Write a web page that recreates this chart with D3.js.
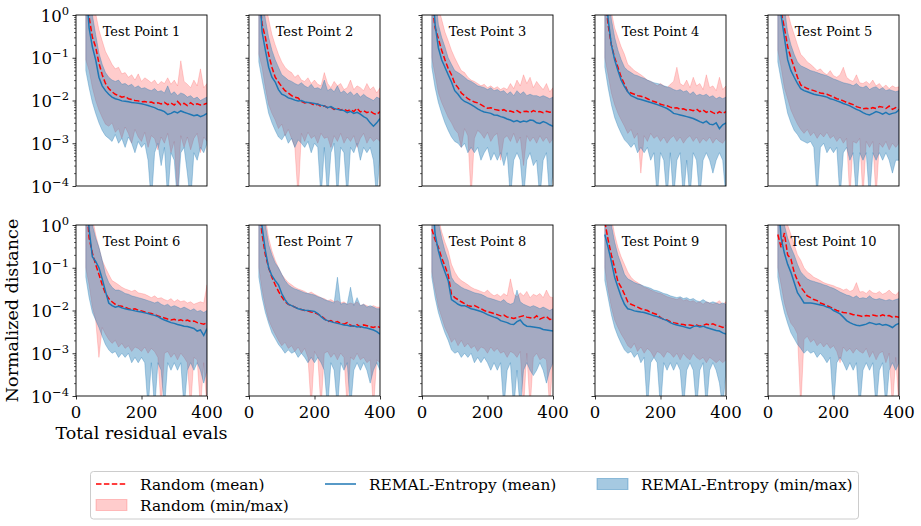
<!DOCTYPE html>
<html><head><meta charset="utf-8">
<script src="https://cdn.jsdelivr.net/npm/d3@7"></script>
<style>body{margin:0;background:#fff}text{font-family:"DejaVu Serif",serif;fill:#000}</style>
</head><body>
<script>
// ---------------- DATA ----------------
const xs = [30,40,50,60,70,80,90,100,110,120,130,140,150,160,170,180,190,200,210,220,230,240,250,260,270,280,290,300,310,320,330,340,350,360,370,380,390,400];
const titles = ["Test Point 1","Test Point 2","Test Point 3","Test Point 4","Test Point 5","Test Point 6","Test Point 7","Test Point 8","Test Point 9","Test Point 10"];
const yTicks = [1e-4,1e-3,1e-2,1e-1,1];
const yTickExp = ["−4","−3","−2","−1","0"];
const xTicks = [0,200,400];
const seriesNames = ["Random (mean)","Random (min/max)","REMAL-Entropy (mean)","REMAL-Entropy (min/max)"];

const randomMean = [
[3,0.9,0.3,0.18,0.075,0.04,0.025,0.019,0.016,0.014,0.013,0.012,0.0125,0.011,0.0105,0.01,0.0098,0.0093,0.0095,0.009,0.0092,0.0085,0.0088,0.0083,0.009,0.008,0.0087,0.0078,0.0095,0.0079,0.0086,0.0076,0.0089,0.0078,0.0084,0.0079,0.0081,0.0087],
[4,0.6,0.3,0.12,0.06,0.035,0.027,0.021,0.017,0.015,0.013,0.012,0.0115,0.0095,0.0088,0.0092,0.0085,0.0078,0.0082,0.0072,0.0075,0.0068,0.007,0.0062,0.0065,0.006,0.0063,0.0057,0.0061,0.0055,0.0066,0.0054,0.0058,0.0052,0.0056,0.005,0.0047,0.0055],
[2,0.5,0.28,0.15,0.09,0.056,0.04,0.025,0.02,0.015,0.013,0.011,0.01,0.0092,0.0088,0.008,0.0072,0.0066,0.0068,0.0062,0.006,0.0058,0.0061,0.0055,0.0057,0.0053,0.0058,0.0052,0.0055,0.0056,0.0052,0.0058,0.0054,0.0055,0.0052,0.0056,0.0053,0.0055],
[3,0.6,0.2,0.1,0.06,0.035,0.024,0.016,0.015,0.014,0.013,0.0125,0.012,0.011,0.01,0.0095,0.009,0.0082,0.0078,0.0075,0.007,0.0066,0.0068,0.0062,0.0064,0.0059,0.0061,0.0058,0.0063,0.0055,0.006,0.0053,0.0057,0.0052,0.0048,0.0055,0.005,0.0055],
[4,1.2,0.5,0.18,0.1,0.06,0.035,0.023,0.021,0.019,0.018,0.017,0.016,0.015,0.0145,0.014,0.013,0.012,0.011,0.0105,0.0098,0.009,0.0085,0.008,0.0072,0.0068,0.0064,0.0066,0.0063,0.0068,0.0065,0.0072,0.007,0.0065,0.0074,0.0062,0.0068,0.006],
[5,0.5,0.22,0.12,0.07,0.04,0.025,0.019,0.016,0.014,0.013,0.0125,0.012,0.011,0.0105,0.011,0.0102,0.0098,0.0092,0.0088,0.0085,0.008,0.0075,0.007,0.0067,0.0063,0.006,0.0062,0.0058,0.0061,0.0056,0.006,0.0055,0.0057,0.0052,0.005,0.0048,0.0052],
[3,0.6,0.2,0.1,0.06,0.04,0.028,0.021,0.016,0.014,0.013,0.012,0.011,0.0105,0.01,0.0097,0.0092,0.009,0.0082,0.0075,0.0065,0.0055,0.0058,0.0052,0.0055,0.005,0.0048,0.0052,0.0045,0.0043,0.0047,0.0041,0.0046,0.0044,0.0042,0.004,0.0043,0.004],
[0.8,0.45,0.3,0.17,0.11,0.067,0.024,0.02,0.018,0.016,0.0145,0.013,0.0125,0.013,0.012,0.011,0.01,0.0093,0.009,0.0085,0.008,0.0075,0.0078,0.007,0.0068,0.0065,0.0068,0.0072,0.0075,0.007,0.0068,0.0065,0.0075,0.0063,0.0068,0.0072,0.0062,0.0063],
[1.2,0.45,0.2,0.1,0.047,0.035,0.024,0.016,0.014,0.013,0.012,0.011,0.0105,0.01,0.009,0.0085,0.008,0.0068,0.0062,0.006,0.0055,0.0052,0.005,0.0048,0.0047,0.0045,0.0046,0.0044,0.0046,0.0043,0.0045,0.0048,0.0046,0.0049,0.0045,0.0043,0.004,0.0044],
[0.6,0.3,0.65,0.2,0.16,0.078,0.05,0.035,0.028,0.022,0.02,0.018,0.017,0.015,0.014,0.013,0.012,0.011,0.01,0.0095,0.009,0.0088,0.0085,0.008,0.0078,0.0075,0.0072,0.0076,0.0074,0.0078,0.0075,0.0073,0.0079,0.0074,0.0076,0.007,0.0072,0.0069]
];
const randomMax = [
[12,8,2.5,1.1,0.45,0.25,0.14,0.1,0.07,0.055,0.06,0.042,0.045,0.035,0.04,0.03,0.042,0.028,0.034,0.03,0.026,0.03,0.023,0.028,0.025,0.034,0.024,0.03,0.022,0.085,0.028,0.024,0.02,0.03,0.022,0.055,0.02,0.025],
[15,6,2,0.8,0.35,0.2,0.12,0.08,0.06,0.05,0.045,0.035,0.04,0.03,0.028,0.034,0.025,0.03,0.024,0.022,0.045,0.025,0.02,0.028,0.022,0.025,0.018,0.02,0.03,0.018,0.022,0.02,0.017,0.025,0.018,0.021,0.015,0.02],
[10,3,1.5,0.8,0.4,0.25,0.15,0.1,0.07,0.05,0.045,0.035,0.03,0.028,0.025,0.022,0.024,0.02,0.022,0.019,0.021,0.018,0.02,0.018,0.025,0.019,0.03,0.022,0.04,0.025,0.035,0.02,0.028,0.022,0.018,0.025,0.016,0.02],
[12,4,1.2,0.5,0.3,0.18,0.12,0.07,0.06,0.05,0.045,0.04,0.035,0.03,0.028,0.025,0.022,0.025,0.022,0.02,0.024,0.028,0.06,0.025,0.022,0.03,0.02,0.035,0.022,0.025,0.018,0.04,0.02,0.022,0.017,0.035,0.018,0.022],
[15,8,3,1.2,0.6,0.35,0.2,0.12,0.1,0.08,0.07,0.06,0.05,0.055,0.045,0.04,0.05,0.038,0.035,0.04,0.06,0.035,0.03,0.028,0.04,0.026,0.025,0.028,0.024,0.03,0.022,0.025,0.02,0.023,0.019,0.022,0.02,0.021],
[15,4,1.5,0.6,0.3,0.15,0.1,0.07,0.05,0.045,0.04,0.035,0.032,0.03,0.028,0.03,0.026,0.025,0.024,0.022,0.02,0.022,0.019,0.02,0.018,0.017,0.019,0.016,0.018,0.016,0.017,0.015,0.016,0.014,0.015,0.016,0.015,0.04],
[15,5,1.5,0.5,0.25,0.15,0.1,0.07,0.055,0.045,0.04,0.035,0.032,0.03,0.028,0.025,0.027,0.024,0.022,0.02,0.019,0.017,0.018,0.016,0.017,0.015,0.016,0.014,0.015,0.014,0.016,0.013,0.014,0.013,0.012,0.013,0.012,0.012],
[12,4,1.5,0.7,0.4,0.25,0.12,0.08,0.06,0.05,0.045,0.04,0.035,0.032,0.03,0.028,0.026,0.03,0.025,0.022,0.024,0.021,0.025,0.022,0.055,0.024,0.021,0.026,0.022,0.028,0.02,0.024,0.022,0.025,0.02,0.03,0.021,0.02],
[12,5,1.5,0.6,0.3,0.18,0.12,0.08,0.06,0.05,0.045,0.04,0.035,0.033,0.03,0.028,0.026,0.025,0.023,0.021,0.02,0.019,0.018,0.02,0.017,0.018,0.016,0.017,0.015,0.016,0.014,0.016,0.015,0.014,0.015,0.017,0.014,0.016],
[5,3,2,1,0.6,0.35,0.2,0.15,0.1,0.08,0.07,0.06,0.055,0.05,0.045,0.042,0.04,0.038,0.035,0.033,0.03,0.032,0.028,0.03,0.045,0.027,0.028,0.025,0.03,0.026,0.025,0.028,0.024,0.026,0.03,0.025,0.023,0.028]
];
const randomMin = [
[0.09,0.05,0.02,0.01,0.006,0.004,0.0028,0.0025,0.003,0.0018,0.0022,0.0013,0.0024,0.0017,0.001,0.0021,0.0014,0.0011,0.0018,0.0008,0.0015,0.0013,0.0007,0.0014,0.001,0.0017,0.0006,0.0011,0.00006,0.0015,0.0008,0.0014,0.0007,0.0013,0.0017,0.0006,0.0014,0.0011],
[0.12,0.06,0.02,0.008,0.005,0.0035,0.0022,0.0028,0.0015,0.0021,0.0013,0.0008,0.00005,0.0017,0.0011,0.0018,0.0013,0.0015,0.001,0.0017,0.0013,0.0014,0.0008,0.0015,0.0011,0.0017,0.001,0.0014,0.0011,0.0015,0.0008,0.0013,0.0017,0.001,0.0014,0.0011,0.0013,0.0011],
[0.1,0.04,0.015,0.009,0.006,0.004,0.003,0.0021,0.0017,0.0008,0.0022,0.0015,0.00005,0.0013,0.002,0.0017,0.0013,0.0018,0.0011,0.0015,0.0017,0.0004,0.0013,0.0015,0.0011,0.0017,0.001,0.0014,0.0003,0.0015,0.0011,0.0014,0.001,0.0015,0.0011,0.0014,0.001,0.0013],
[0.1,0.04,0.015,0.008,0.005,0.0035,0.0025,0.0017,0.0021,0.0013,0.0017,0.0002,0.0015,0.0011,0.0017,0.0013,0.0015,0.0011,0.0014,0.001,0.0013,0.0015,0.0011,0.0014,0.001,0.0013,0.0015,0.0011,0.0014,0.001,0.0013,0.0011,0.0014,0.001,0.0013,0.0011,0.001,0.0013],
[0.15,0.06,0.02,0.011,0.006,0.004,0.0028,0.0021,0.0017,0.0021,0.0015,0.0018,0.0013,0.0017,0.0014,0.0018,0.0013,0.0015,0.0011,0.0014,0.001,0.0013,0.00005,0.0011,0.001,0.0013,0.00005,0.0011,0.0008,0.0011,0.00005,0.001,0.0008,0.0011,0.0007,0.001,0.0008,0.001],
[0.1,0.04,0.012,0.006,0.0008,0.004,0.0028,0.0021,0.0017,0.002,0.0014,0.0017,0.0013,0.0015,0.0011,0.0014,0.0013,0.0011,0.0014,0.001,0.0013,0.0011,0.0008,0.00005,0.001,0.0011,0.0008,0.001,0.0007,0.001,0.0008,0.0006,0.00005,0.0008,0.0007,0.00005,0.0006,0.00005],
[0.1,0.03,0.012,0.006,0.004,0.0028,0.002,0.0015,0.0018,0.0013,0.0015,0.0011,0.0014,0.001,0.0013,0.0008,0.00005,0.0011,0.0008,0.00005,0.001,0.0011,0.0008,0.001,0.0007,0.001,0.0008,0.00005,0.0008,0.0007,0.001,0.0007,0.0008,0.0006,0.0007,0.00005,0.0007,0.0006],
[0.08,0.03,0.012,0.007,0.004,0.0028,0.0018,0.0022,0.0015,0.002,0.0014,0.0017,0.0013,0.0015,0.0011,0.0014,0.0013,0.001,0.0014,0.0011,0.0013,0.001,0.0011,0.0008,0.0011,0.001,0.0008,0.0011,0.00005,0.001,0.00005,0.0008,0.001,0.0007,0.0008,0.0007,0.00005,0.0008],
[0.1,0.03,0.012,0.006,0.004,0.0028,0.0021,0.0015,0.0013,0.0017,0.0011,0.0014,0.001,0.0013,0.0011,0.0008,0.0011,0.001,0.0008,0.0011,0.001,0.0008,0.001,0.0007,0.001,0.0008,0.0007,0.001,0.0008,0.0007,0.0008,0.0006,0.0008,0.0007,0.0006,0.0007,0.0006,0.0007],
[0.1,0.04,0.015,0.008,0.005,0.004,0.0028,0.00005,0.0021,0.0025,0.0018,0.0021,0.0015,0.0018,0.0014,0.0017,0.0013,0.0015,0.0011,0.0006,0.0014,0.0011,0.0013,0.001,0.0013,0.0011,0.001,0.0013,0.0008,0.0011,0.0007,0.001,0.0011,0.0006,0.001,0.00005,0.0008,0.00005]
];
const remalMean = [
[6,0.5,0.18,0.09,0.035,0.022,0.017,0.014,0.012,0.011,0.0105,0.0098,0.0096,0.0093,0.009,0.0088,0.0086,0.0084,0.008,0.0076,0.0072,0.0068,0.0062,0.0059,0.0055,0.0047,0.005,0.0055,0.0051,0.0057,0.0053,0.005,0.0047,0.0044,0.0046,0.0042,0.0045,0.005],
[8,0.4,0.15,0.06,0.035,0.027,0.018,0.014,0.013,0.0115,0.011,0.0102,0.0098,0.01,0.0092,0.009,0.0088,0.0085,0.0082,0.0078,0.0075,0.0068,0.0072,0.0065,0.0062,0.006,0.0058,0.0052,0.0056,0.005,0.0053,0.0048,0.0042,0.0038,0.003,0.0025,0.003,0.0038],
[8,0.6,0.17,0.09,0.06,0.04,0.027,0.017,0.014,0.011,0.0095,0.0088,0.008,0.0072,0.0064,0.0058,0.0054,0.0052,0.005,0.0046,0.0045,0.0042,0.004,0.0037,0.0035,0.0032,0.0034,0.0031,0.0033,0.0032,0.0035,0.0034,0.003,0.0029,0.0032,0.003,0.0027,0.0025],
[10,0.8,0.2,0.09,0.05,0.03,0.021,0.016,0.013,0.012,0.011,0.0105,0.01,0.0095,0.009,0.0085,0.008,0.0075,0.007,0.0065,0.0058,0.005,0.0048,0.0046,0.0044,0.0042,0.004,0.0038,0.0035,0.0032,0.003,0.0033,0.0028,0.0027,0.003,0.0022,0.0027,0.003],
[10,1,0.3,0.09,0.05,0.035,0.025,0.019,0.017,0.016,0.015,0.014,0.0135,0.013,0.0125,0.012,0.011,0.0105,0.0098,0.0092,0.0085,0.008,0.0075,0.0068,0.0062,0.0058,0.0052,0.0048,0.0046,0.005,0.0055,0.0052,0.0048,0.0053,0.0047,0.005,0.0052,0.006],
[10,0.8,0.18,0.14,0.1,0.055,0.028,0.015,0.013,0.012,0.0125,0.0115,0.011,0.0105,0.0102,0.0098,0.0095,0.0092,0.0088,0.0085,0.008,0.0077,0.0072,0.0065,0.006,0.0056,0.0052,0.005,0.0047,0.0045,0.0043,0.0042,0.004,0.0038,0.0033,0.0035,0.0026,0.0038],
[4,0.9,0.25,0.1,0.065,0.05,0.04,0.025,0.018,0.014,0.013,0.012,0.011,0.0105,0.0102,0.01,0.0098,0.0095,0.0085,0.0072,0.0062,0.0058,0.0055,0.0052,0.005,0.0048,0.0046,0.0045,0.0043,0.0044,0.0041,0.0042,0.004,0.0039,0.0037,0.0035,0.0032,0.0028],
[8,0.6,0.25,0.13,0.08,0.05,0.018,0.016,0.014,0.013,0.013,0.012,0.011,0.0105,0.01,0.0095,0.0088,0.008,0.0075,0.007,0.0066,0.0058,0.0055,0.0052,0.0048,0.0047,0.0055,0.006,0.0048,0.0043,0.0042,0.0041,0.004,0.0039,0.0036,0.0035,0.0034,0.0033],
[0.6,0.3,0.14,0.06,0.035,0.021,0.014,0.011,0.0105,0.0098,0.0095,0.0092,0.009,0.0085,0.008,0.0075,0.0072,0.0067,0.0062,0.0058,0.0052,0.0048,0.0046,0.0044,0.0042,0.004,0.0038,0.0042,0.0044,0.0041,0.0043,0.004,0.0038,0.0036,0.0034,0.0033,0.003,0.0028],
[5,0.5,0.22,0.12,0.078,0.045,0.026,0.02,0.015,0.015,0.015,0.0145,0.014,0.0135,0.013,0.012,0.0115,0.01,0.0092,0.0083,0.007,0.0058,0.0052,0.0048,0.0045,0.0044,0.0046,0.0048,0.0052,0.005,0.0047,0.0049,0.0045,0.0047,0.0044,0.004,0.0046,0.005]
];
const remalMax = [
[12,4,1,0.35,0.13,0.07,0.045,0.035,0.03,0.028,0.03,0.024,0.025,0.022,0.024,0.02,0.022,0.019,0.02,0.018,0.017,0.019,0.016,0.017,0.015,0.022,0.014,0.016,0.013,0.015,0.014,0.012,0.013,0.011,0.012,0.01,0.011,0.012],
[15,3,0.8,0.3,0.15,0.09,0.06,0.04,0.035,0.03,0.028,0.025,0.023,0.026,0.022,0.02,0.024,0.019,0.02,0.018,0.03,0.017,0.019,0.016,0.022,0.015,0.017,0.014,0.016,0.013,0.015,0.012,0.014,0.012,0.011,0.01,0.012,0.011],
[15,3,0.6,0.3,0.18,0.1,0.07,0.05,0.045,0.04,0.035,0.03,0.028,0.025,0.022,0.021,0.02,0.018,0.02,0.017,0.018,0.016,0.017,0.014,0.016,0.013,0.017,0.014,0.016,0.013,0.014,0.013,0.013,0.012,0.013,0.012,0.011,0.012],
[15,4,0.8,0.3,0.15,0.09,0.06,0.05,0.045,0.04,0.038,0.035,0.033,0.03,0.028,0.026,0.025,0.024,0.022,0.021,0.02,0.018,0.017,0.018,0.016,0.017,0.014,0.016,0.013,0.014,0.013,0.014,0.012,0.013,0.011,0.012,0.011,0.012],
[15,5,1.5,0.4,0.2,0.12,0.08,0.065,0.06,0.055,0.05,0.048,0.045,0.042,0.04,0.038,0.035,0.032,0.03,0.028,0.026,0.025,0.024,0.022,0.025,0.021,0.02,0.022,0.018,0.02,0.021,0.018,0.02,0.017,0.018,0.017,0.016,0.017],
[15,4,1,0.5,0.3,0.15,0.07,0.045,0.035,0.03,0.03,0.028,0.025,0.024,0.022,0.021,0.02,0.019,0.018,0.017,0.016,0.015,0.016,0.014,0.013,0.014,0.012,0.013,0.012,0.011,0.012,0.011,0.01,0.011,0.0095,0.01,0.009,0.01],
[15,4,1,0.35,0.2,0.13,0.1,0.07,0.05,0.04,0.035,0.032,0.03,0.028,0.026,0.025,0.024,0.023,0.021,0.02,0.018,0.017,0.016,0.015,0.06,0.014,0.015,0.014,0.035,0.013,0.02,0.013,0.014,0.012,0.013,0.012,0.011,0.011],
[15,4,1.2,0.5,0.25,0.15,0.06,0.045,0.04,0.035,0.032,0.03,0.028,0.026,0.025,0.024,0.022,0.02,0.019,0.018,0.017,0.016,0.018,0.015,0.014,0.015,0.03,0.016,0.014,0.013,0.012,0.013,0.012,0.011,0.012,0.011,0.01,0.011],
[10,3,1,0.4,0.2,0.12,0.07,0.055,0.05,0.045,0.042,0.04,0.037,0.035,0.033,0.03,0.029,0.027,0.025,0.024,0.022,0.021,0.02,0.021,0.019,0.02,0.018,0.019,0.017,0.016,0.018,0.016,0.015,0.016,0.015,0.014,0.015,0.014],
[15,3,1,0.5,0.3,0.2,0.12,0.08,0.065,0.055,0.05,0.048,0.045,0.043,0.04,0.038,0.035,0.033,0.03,0.027,0.025,0.023,0.022,0.02,0.022,0.019,0.02,0.019,0.022,0.019,0.018,0.019,0.018,0.017,0.018,0.017,0.018,0.019]
];
const remalMin = [
[0.05,0.02,0.009,0.005,0.003,0.002,0.0015,0.0013,0.0011,0.0016,0.001,0.0013,0.0008,0.0014,0.001,0.0006,0.0011,0.0008,0.001,0.0004,0.00004,0.0006,0.001,0.0003,0.0008,0.00005,0.0006,0.0004,0.00004,0.0006,0.0008,0.0002,0.00004,0.0006,0.0004,0.0008,0.0006,0.001],
[0.08,0.03,0.012,0.005,0.003,0.002,0.0014,0.0012,0.0016,0.001,0.0013,0.0008,0.0012,0.001,0.0008,0.0011,0.0006,0.001,0.0008,0.00005,0.0008,0.00005,0.0006,0.001,0.00005,0.0008,0.0006,0.00005,0.0008,0.0006,0.001,0.0004,0.0008,0.0006,0.0008,0.0004,0.00005,0.0006],
[0.06,0.02,0.009,0.005,0.003,0.002,0.0014,0.0011,0.001,0.0008,0.001,0.0006,0.0008,0.0006,0.0008,0.0004,0.0006,0.0008,0.0004,0.0006,0.0004,0.0006,0.0003,0.0006,0.00005,0.0004,0.0006,0.0004,0.00005,0.0004,0.0006,0.0003,0.0004,0.00005,0.0004,0.0006,0.00005,0.0002],
[0.06,0.02,0.008,0.004,0.0025,0.0017,0.0012,0.001,0.0008,0.001,0.0006,0.0008,0.0006,0.0008,0.0004,0.0006,0.00005,0.0006,0.0004,0.00005,0.0006,0.00005,0.0004,0.0006,0.00005,0.0004,0.00005,0.0006,0.0004,0.00005,0.0004,0.0006,0.0004,0.0002,0.0004,0.0006,0.0004,0.00005],
[0.08,0.03,0.012,0.005,0.003,0.002,0.0016,0.0012,0.0011,0.001,0.0011,0.0008,0.00005,0.0008,0.001,0.0006,0.0008,0.0006,0.0008,0.00005,0.0006,0.0008,0.0004,0.0006,0.00005,0.0006,0.0004,0.0006,0.00005,0.0006,0.0004,0.0006,0.0004,0.0006,0.0004,0.0002,0.0004,0.0004],
[0.06,0.02,0.009,0.006,0.004,0.0025,0.0016,0.0012,0.001,0.0011,0.0008,0.001,0.0008,0.001,0.0006,0.0008,0.0006,0.0008,0.0006,0.00005,0.0006,0.00005,0.0006,0.0004,0.00005,0.0006,0.0004,0.0006,0.0004,0.0006,0.00005,0.0004,0.0006,0.0004,0.0006,0.0004,0.0002,0.0004],
[0.06,0.02,0.009,0.005,0.003,0.0022,0.0016,0.0013,0.001,0.0012,0.001,0.0011,0.0008,0.001,0.0008,0.0006,0.0008,0.0006,0.0008,0.0006,0.0004,0.00005,0.0006,0.0004,0.00005,0.0006,0.0004,0.0006,0.00005,0.0004,0.0006,0.0004,0.0006,0.0004,0.0002,0.0004,0.0006,0.0004],
[0.06,0.02,0.009,0.005,0.003,0.002,0.0012,0.001,0.0011,0.0008,0.001,0.0008,0.001,0.0006,0.0008,0.0006,0.0008,0.0006,0.0004,0.0006,0.0004,0.0006,0.00005,0.0004,0.0006,0.00005,0.0004,0.00005,0.0004,0.0006,0.0004,0.0003,0.0004,0.0006,0.0004,0.0002,0.0004,0.0006],
[0.05,0.02,0.008,0.004,0.0025,0.0017,0.0012,0.001,0.0011,0.0008,0.001,0.0006,0.0008,0.00005,0.0006,0.0008,0.0006,0.00005,0.0006,0.0004,0.0006,0.0004,0.0006,0.0004,0.00005,0.0004,0.0006,0.0004,0.00005,0.0004,0.0006,0.00005,0.0004,0.0006,0.0004,0.0002,0.00005,0.0004],
[0.06,0.02,0.009,0.005,0.003,0.0022,0.0016,0.0013,0.001,0.0012,0.001,0.0011,0.0008,0.001,0.0008,0.0006,0.0008,0.00005,0.0006,0.0008,0.0006,0.0004,0.0006,0.0004,0.0006,0.00005,0.0004,0.0006,0.0004,0.0006,0.00005,0.0004,0.0006,0.00005,0.0004,0.0006,0.0004,0.0006]
];

// ---------------- DRAWING ----------------
const W = 921, H = 526;
const RED = "#ff0000", BLUE = "#1f77b4";
const svg = d3.select("body").append("svg").attr("width", W).attr("height", H);
svg.append("rect").attr("width", W).attr("height", H).attr("fill", "#fff");

const pw = 131, ph = 171;
const lefts = [76, 249, 422, 595, 768];
const tops = [15, 225];
const minorVals = [];
for (let e = -4; e < 0; e++) for (let m = 2; m <= 9; m++) minorVals.push(m * Math.pow(10, e));

titles.forEach((title, i) => {
  const col = i % 5, row = Math.floor(i / 5);
  const x0 = lefts[col], y0 = tops[row];
  const x = d3.scaleLinear().domain([0, 400]).range([x0, x0 + pw]);
  const y = d3.scaleLog().domain([1e-4, 1]).range([y0 + ph, y0]);
  const g = svg.append("g");
  const cid = "clip" + i;
  svg.append("clipPath").attr("id", cid).append("rect")
    .attr("x", x0).attr("y", y0).attr("width", pw).attr("height", ph);
  const pg = g.append("g").attr("clip-path", `url(#${cid})`);

  const area = (lo, hi) => d3.area()
    .x((d, j) => x(xs[j])).y0((d, j) => y(lo[j])).y1((d, j) => y(hi[j]))(xs);
  const line = arr => d3.line().x((d, j) => x(xs[j])).y((d, j) => y(arr[j]))(xs);

  pg.append("path").attr("d", area(randomMin[i], randomMax[i]))
    .attr("fill", RED).attr("fill-opacity", 0.2)
    .attr("stroke", RED).attr("stroke-opacity", 0.2).attr("stroke-width", 0.8);
  pg.append("path").attr("d", area(remalMin[i], remalMax[i]))
    .attr("fill", BLUE).attr("fill-opacity", 0.4)
    .attr("stroke", BLUE).attr("stroke-opacity", 0.4).attr("stroke-width", 0.8);
  pg.append("path").attr("d", line(randomMean[i]))
    .attr("fill", "none").attr("stroke", RED).attr("stroke-width", 1.5)
    .attr("stroke-dasharray", "5.5,2.4");
  pg.append("path").attr("d", line(remalMean[i]))
    .attr("fill", "none").attr("stroke", BLUE).attr("stroke-width", 1.5);

  g.append("rect").attr("x", x0).attr("y", y0).attr("width", pw).attr("height", ph)
    .attr("fill", "none").attr("stroke", "#000").attr("stroke-width", 0.9);

  const ya = d3.axisLeft(y).tickValues(yTicks).tickSize(3.5).tickFormat("");
  const yag = g.append("g").attr("transform", `translate(${x0},0)`).call(ya);
  yag.select(".domain").remove();
  yag.selectAll("line").attr("stroke-width", 0.8);
  const ym = d3.axisLeft(y).tickValues(minorVals).tickSize(2).tickFormat("");
  const ymg = g.append("g").attr("transform", `translate(${x0},0)`).call(ym);
  ymg.select(".domain").remove();
  ymg.selectAll("line").attr("stroke-width", 0.6);
  if (col === 0) {
    yTicks.forEach((v, k) => {
      const t = g.append("text").attr("x", x0 - 7).attr("y", y(v) + 6.5)
        .attr("text-anchor", "end").style("font-size", "16.5px");
      t.append("tspan").text("10");
      t.append("tspan").attr("dy", -7).style("font-size", "11.5px").text(yTickExp[k]);
    });
  }
  if (row === 1) {
    const xa = d3.axisBottom(x).tickValues(xTicks).tickSize(3.5).tickFormat("");
    const xag = g.append("g").attr("transform", `translate(0,${y0 + ph})`).call(xa);
    xag.select(".domain").remove();
    xag.selectAll("line").attr("stroke-width", 0.8);
    xTicks.forEach(v => {
      g.append("text").attr("x", x(v)).attr("y", y0 + ph + 22)
        .attr("text-anchor", "middle").style("font-size", "16.5px").text(v);
    });
  }
  g.append("text").attr("x", x0 + pw / 2).attr("y", y0 + 21)
    .attr("text-anchor", "middle").style("font-size", "13px").text(title);
});

svg.append("text").attr("x", 141.5).attr("y", 439).attr("text-anchor", "middle")
  .style("font-size", "17.5px").text("Total residual evals");
svg.append("text").attr("transform", "translate(18,310.5) rotate(-90)")
  .attr("text-anchor", "middle").style("font-size", "17.5px").text("Normalized distance");

// legend
const lg = svg.append("g");
lg.append("rect").attr("x", 90.5).attr("y", 471.5).attr("width", 768).attr("height", 47.5)
  .attr("rx", 3).attr("fill", "#fff").attr("stroke", "#cccccc").attr("stroke-width", 1);
const items = [
  {name: seriesNames[0], type: "dash", x: 96, y: 484},
  {name: seriesNames[1], type: "patchR", x: 96, y: 505},
  {name: seriesNames[2], type: "line", x: 325, y: 484},
  {name: seriesNames[3], type: "patchB", x: 597, y: 484}
];
items.forEach(it => {
  if (it.type === "dash") {
    lg.append("line").attr("x1", it.x).attr("x2", it.x + 31).attr("y1", it.y).attr("y2", it.y)
      .attr("stroke", RED).attr("stroke-width", 1.5).attr("stroke-dasharray", "5.5,2.4");
  } else if (it.type === "line") {
    lg.append("line").attr("x1", it.x).attr("x2", it.x + 31).attr("y1", it.y).attr("y2", it.y)
      .attr("stroke", BLUE).attr("stroke-width", 1.5);
  } else {
    const c = it.type === "patchR" ? RED : BLUE;
    const o = it.type === "patchR" ? 0.2 : 0.4;
    lg.append("rect").attr("x", it.x).attr("y", it.y - 5.5).attr("width", 31).attr("height", 11)
      .attr("fill", c).attr("fill-opacity", o).attr("stroke", c).attr("stroke-opacity", o);
  }
  lg.append("text").attr("x", it.x + 44).attr("y", it.y + 5.5).style("font-size", "15.4px").text(it.name);
});
</script>
</body></html>
